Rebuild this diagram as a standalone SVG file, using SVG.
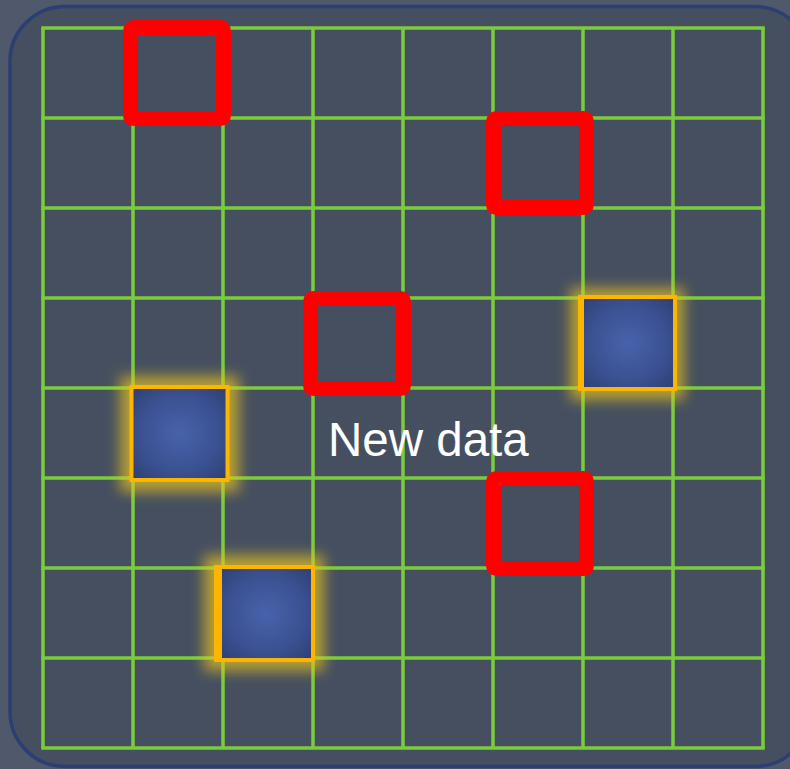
<svg xmlns="http://www.w3.org/2000/svg" width="790" height="769" viewBox="0 0 790 769">
<style>
.grid line{stroke:#7acc3c;stroke-width:3.5;}
.red{fill:none;stroke:#ff0000;stroke-width:15;stroke-linejoin:round;}
.cell{fill:url(#bg);stroke:#ffb400;stroke-width:4;}
.glow{fill:#e6c21c;opacity:0.7;filter:url(#blur);}
.lbl{font-family:"Liberation Sans",Arial,sans-serif;font-size:47.5px;fill:#ffffff;}
</style>
<defs>
<radialGradient id="bg" cx="0.5" cy="0.5" r="0.7">
<stop offset="0" stop-color="#4863ac"/>
<stop offset="0.6" stop-color="#3a5090"/>
<stop offset="1" stop-color="#2d3e72"/>
</radialGradient>
<filter id="blur" x="-30%" y="-30%" width="160%" height="160%">
<feGaussianBlur stdDeviation="7"/>
</filter>
</defs>
<rect x="0" y="0" width="790" height="769" fill="#4f596b"/>
<rect x="10" y="6.5" width="800" height="760" rx="55" ry="55" fill="#454f60" stroke="#2c3e74" stroke-width="3.5"/>
<g id="grid" class="grid">
<line x1="43" y1="28" x2="43" y2="748"/>
<line x1="133" y1="28" x2="133" y2="748"/>
<line x1="223" y1="28" x2="223" y2="748"/>
<line x1="313" y1="28" x2="313" y2="748"/>
<line x1="403" y1="28" x2="403" y2="748"/>
<line x1="493" y1="28" x2="493" y2="748"/>
<line x1="583" y1="28" x2="583" y2="748"/>
<line x1="673" y1="28" x2="673" y2="748"/>
<line x1="763" y1="28" x2="763" y2="748"/>
<line x1="41.25" y1="28" x2="764.75" y2="28"/>
<line x1="41.25" y1="118" x2="764.75" y2="118"/>
<line x1="41.25" y1="208" x2="764.75" y2="208"/>
<line x1="41.25" y1="298" x2="764.75" y2="298"/>
<line x1="41.25" y1="388" x2="764.75" y2="388"/>
<line x1="41.25" y1="478" x2="764.75" y2="478"/>
<line x1="41.25" y1="568" x2="764.75" y2="568"/>
<line x1="41.25" y1="658" x2="764.75" y2="658"/>
<line x1="41.25" y1="748" x2="764.75" y2="748"/>
</g>
<g id="red1"><rect class="red" x="130.5" y="27.5" width="93" height="91" rx="3"/></g>
<g id="red2"><rect class="red" x="493.5" y="118.5" width="93" height="89" rx="3"/></g>
<g id="red3"><rect class="red" x="310.5" y="298.5" width="93" height="90" rx="3"/></g>
<g id="red4"><rect class="red" x="493.5" y="478.5" width="93" height="90" rx="3"/></g>
<g id="blue1">
<rect class="glow" x="570" y="288" width="114" height="112"/>
<rect class="cell" x="581" y="297" width="94" height="92"/>
<rect x="578" y="295" width="6" height="96" fill="#ffb400"/>
</g>
<g id="blue2">
<rect class="glow" x="120" y="376" width="119" height="116"/>
<rect class="cell" x="131.5" y="387" width="96" height="93"/>
</g>
<g id="blue3">
<rect class="glow" x="204" y="555" width="120" height="116"/>
<rect class="cell" x="219" y="567" width="94" height="93"/>
<rect x="214" y="565" width="8" height="97" fill="#ffb400"/>
</g>
<g id="label"><text class="lbl" x="328" y="456">New data</text></g>
</svg>
